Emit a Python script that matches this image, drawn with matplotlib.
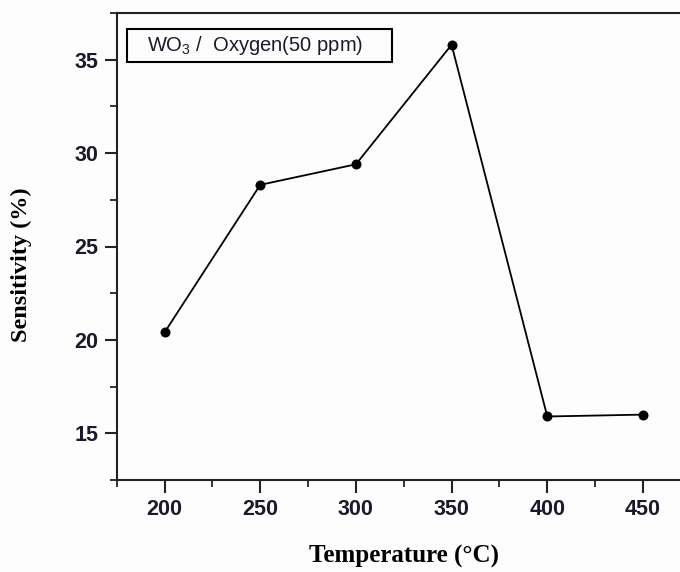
import matplotlib
matplotlib.use("Agg")
import matplotlib.pyplot as plt
from matplotlib.patches import Rectangle
from matplotlib.ticker import MultipleLocator

temperature = [200, 250, 300, 350, 400, 450]
sensitivity = [20.4, 28.3, 29.4, 35.8, 15.9, 16.0]
x_ticks = [200, 250, 300, 350, 400, 450]
y_ticks = [15, 20, 25, 30, 35]
legend_text = "WO$_3$ /  Oxygen(50 ppm)"
x_label = "Temperature (°C)"
y_label = "Sensitivity (%)"

plt.rcParams['mathtext.fontset'] = 'custom'
plt.rcParams['mathtext.rm'] = 'Liberation Sans'
plt.rcParams['mathtext.it'] = 'Liberation Sans'

fig = plt.figure(figsize=(6.8, 5.72), dpi=100)
fig.patch.set_facecolor('#fdfdfd')
ax = fig.add_axes([116.7 / 680, 92 / 572, 574.1 / 680, 467 / 572])
ax.set_facecolor('#fdfdfd')

ax.plot(temperature, sensitivity, color='black', lw=1.3,
        marker='o', markersize=7.2, markerfacecolor='black',
        markeredgecolor='black', markeredgewidth=0)

ax.set_xlim(175, 475)
ax.set_ylim(12.5, 37.5)
ax.set_xticks(x_ticks)
ax.set_yticks(y_ticks)
ax.xaxis.set_minor_locator(MultipleLocator(25))
ax.yaxis.set_minor_locator(MultipleLocator(2.5))

for s in ax.spines.values():
    s.set_linewidth(1.5)
    s.set_color('#222222')

ax.tick_params(which='major', direction='out', length=9, width=1.5,
               colors='#222222', pad=5, top=False, right=False)
ax.tick_params(axis='y', which='major', pad=4)
ax.tick_params(which='minor', direction='out', length=5, width=1.3,
               colors='#222222', top=False, right=False)
for lab in ax.get_xticklabels() + ax.get_yticklabels():
    lab.set_fontfamily('Liberation Sans')
    lab.set_fontweight('bold')
    lab.set_fontsize(15.5)
    lab.set_color('#1a1a2a')

ax.set_xlabel(x_label, family='Liberation Serif', fontweight='bold', fontsize=18)
ax.set_ylabel(y_label, family='Liberation Serif', fontweight='bold', fontsize=17.5)
ax.xaxis.set_label_coords(0.5, -0.14)
ax.yaxis.set_label_coords(-0.148, 0.46)

ax.add_patch(Rectangle((0.0174, 0.8957), 0.4616, 0.0693, transform=ax.transAxes,
                       fill=False, edgecolor='black', lw=1.5, zorder=5))
ax.text(0.052, 0.930, legend_text, transform=ax.transAxes, ha='left', va='center',
        family='Liberation Sans', fontsize=14.5, color='#1a1a2a', zorder=6)

fig.savefig('out.png', dpi=100, facecolor=fig.get_facecolor())
